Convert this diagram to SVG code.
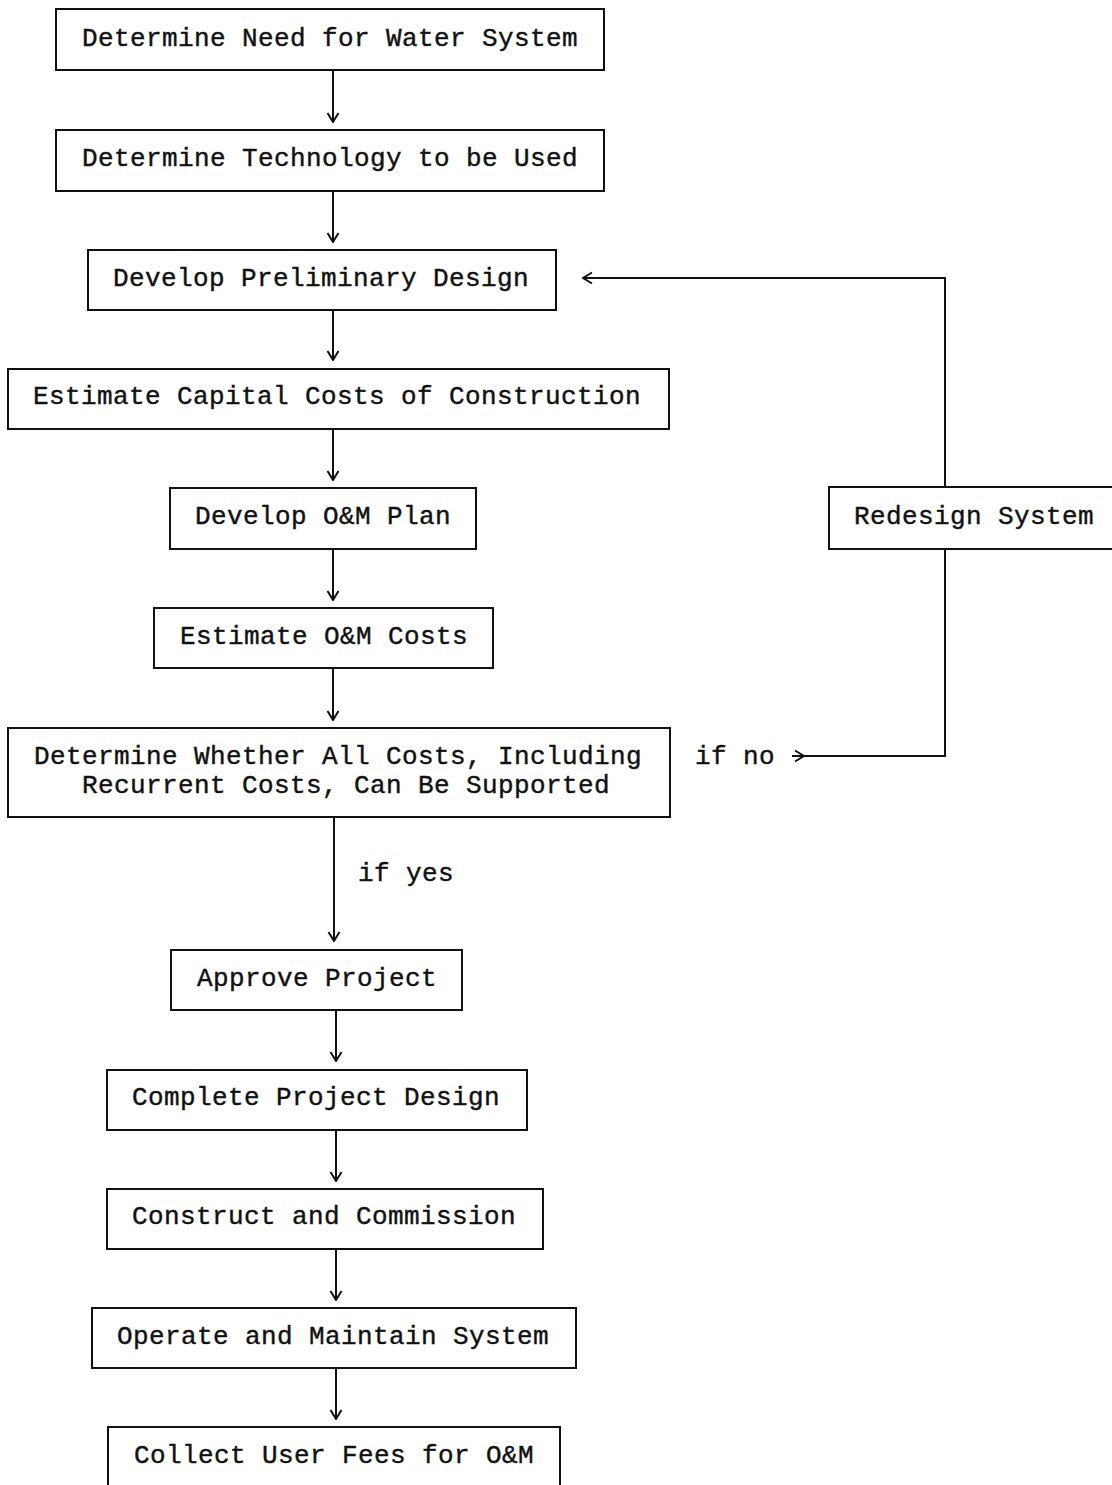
<svg xmlns="http://www.w3.org/2000/svg" width="1112" height="1485" viewBox="0 0 1112 1485">
<style>
.box{fill:#fff;stroke:#111;stroke-width:2}
.t{font-family:"Liberation Mono","Courier New",monospace;font-size:26px;letter-spacing:0.4px;fill:#111;stroke:#111;stroke-width:0.4}
.c{fill:none;stroke:#111;stroke-width:2}
</style>
<defs>
<marker id="ah" viewBox="0 0 12 14" refX="11" refY="7" markerWidth="12" markerHeight="14" markerUnits="userSpaceOnUse" orient="auto">
<path d="M2,1.5 L11,7 L2,12.5" fill="none" stroke="#111" stroke-width="2"/>
</marker>
</defs>
<rect width="1112" height="1485" fill="#fff"/>
<g id="connectors">
<line class="c" x1="333" y1="70" x2="333" y2="122" marker-end="url(#ah)"/>
<line class="c" x1="333" y1="191" x2="333" y2="242" marker-end="url(#ah)"/>
<line class="c" x1="333" y1="310" x2="333" y2="360" marker-end="url(#ah)"/>
<line class="c" x1="333" y1="429" x2="333" y2="480" marker-end="url(#ah)"/>
<line class="c" x1="333" y1="549" x2="333" y2="600" marker-end="url(#ah)"/>
<line class="c" x1="333" y1="668" x2="333" y2="720" marker-end="url(#ah)"/>
<line class="c" x1="334" y1="817" x2="334" y2="941" marker-end="url(#ah)"/>
<line class="c" x1="336" y1="1010" x2="336" y2="1061" marker-end="url(#ah)"/>
<line class="c" x1="336" y1="1130" x2="336" y2="1181" marker-end="url(#ah)"/>
<line class="c" x1="336" y1="1249" x2="336" y2="1300" marker-end="url(#ah)"/>
<line class="c" x1="336" y1="1368" x2="336" y2="1419" marker-end="url(#ah)"/>
<path class="c" d="M945,487 L945,278 L583,278" marker-end="url(#ah)"/>
<line class="c" x1="792" y1="756" x2="804" y2="756" marker-end="url(#ah)"/>
<path class="c" d="M804,756 L945,756 L945,549"/>
<text class="t" x="358" y="881">if yes</text>
<text class="t" x="695" y="764">if no</text>
</g>
<g id="n1"><rect class="box" x="56" y="9" width="548" height="61"/><text class="t" x="82" y="46">Determine Need for Water System</text></g>
<g id="n2"><rect class="box" x="56" y="130" width="548" height="61"/><text class="t" x="82" y="166">Determine Technology to be Used</text></g>
<g id="n3"><rect class="box" x="88" y="250" width="468" height="60"/><text class="t" x="113" y="286">Develop Preliminary Design</text></g>
<g id="n4"><rect class="box" x="8" y="369" width="661" height="60"/><text class="t" x="33" y="404">Estimate Capital Costs of Construction</text></g>
<g id="n5"><rect class="box" x="170" y="488" width="306" height="61"/><text class="t" x="195" y="524">Develop O&amp;M Plan</text></g>
<g id="n6"><rect class="box" x="154" y="608" width="339" height="60"/><text class="t" x="180" y="644">Estimate O&amp;M Costs</text></g>
<g id="n7"><rect class="box" x="8" y="728" width="662" height="89"/><text class="t" x="34" y="764">Determine Whether All Costs, Including</text><text class="t" x="82" y="793">Recurrent Costs, Can Be Supported</text></g>
<g id="n8"><rect class="box" x="171" y="950" width="291" height="60"/><text class="t" x="197" y="986">Approve Project</text></g>
<g id="n9"><rect class="box" x="107" y="1070" width="420" height="60"/><text class="t" x="132" y="1105">Complete Project Design</text></g>
<g id="n10"><rect class="box" x="107" y="1189" width="436" height="60"/><text class="t" x="132" y="1224">Construct and Commission</text></g>
<g id="n11"><rect class="box" x="92" y="1308" width="484" height="60"/><text class="t" x="117" y="1344">Operate and Maintain System</text></g>
<g id="n12"><rect class="box" x="108" y="1427" width="452" height="70"/><text class="t" x="134" y="1463">Collect User Fees for O&amp;M</text></g>
<g id="n13"><rect class="box" x="829" y="487" width="300" height="62"/><text class="t" x="854" y="524">Redesign System</text></g>
</svg>
